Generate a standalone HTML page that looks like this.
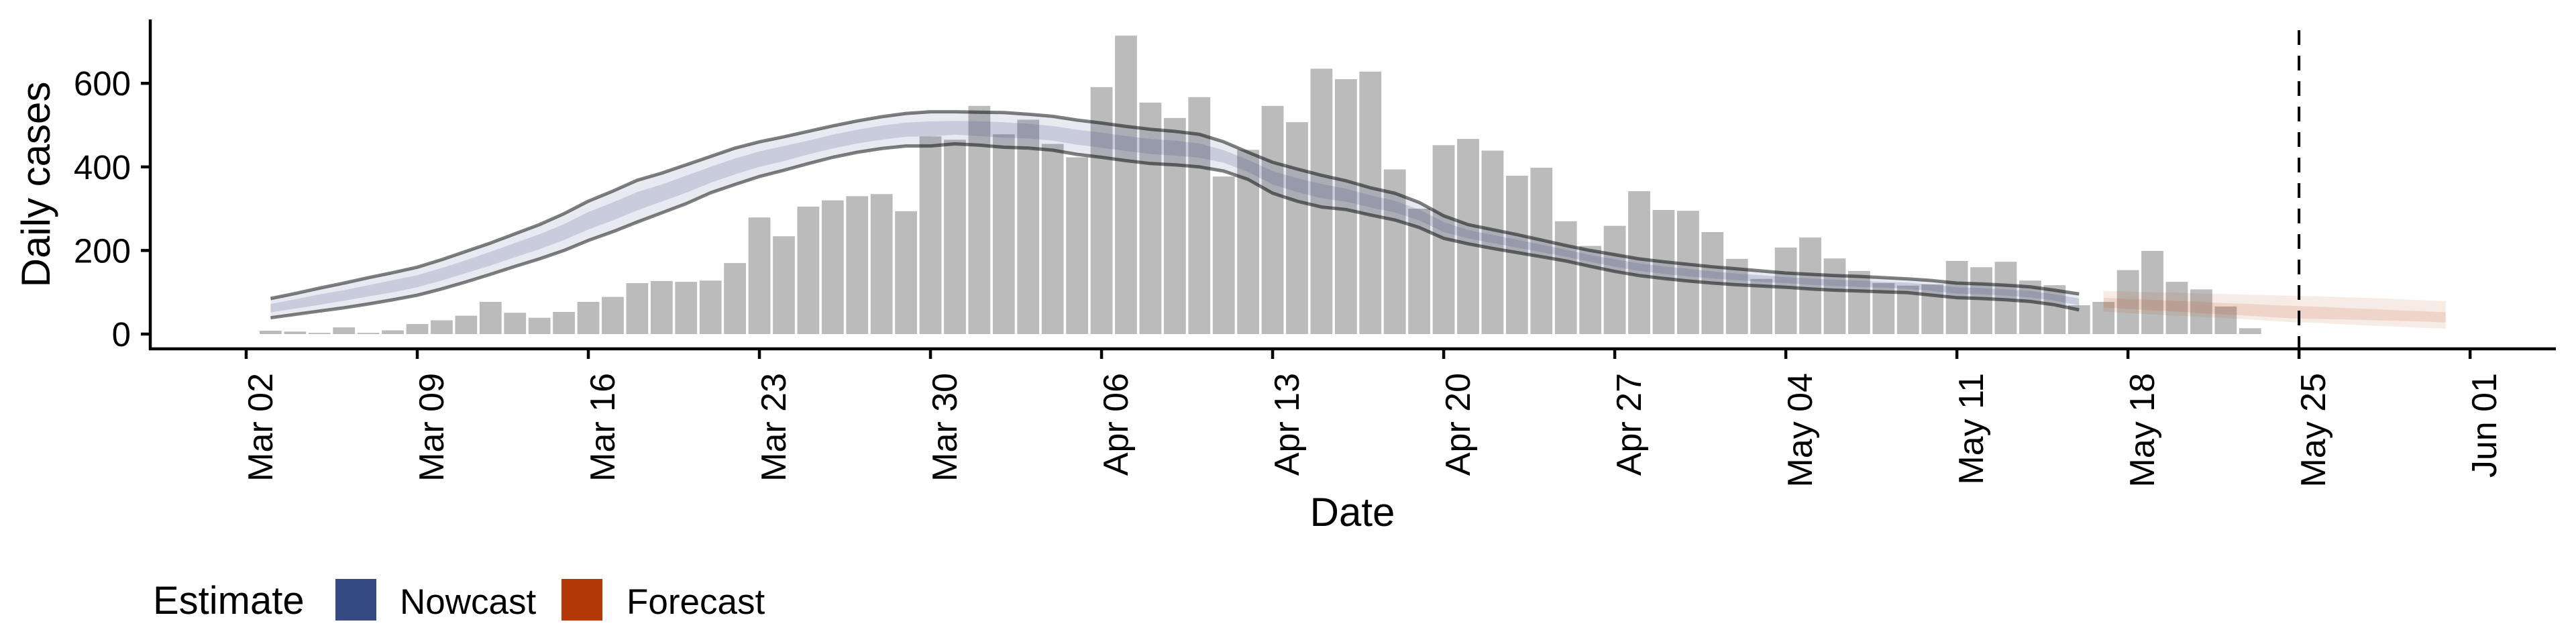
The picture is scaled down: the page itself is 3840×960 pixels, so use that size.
<!DOCTYPE html>
<html><head><meta charset="utf-8"><style>
html,body{margin:0;padding:0;background:#fff;}
svg{display:block;font-family:"Liberation Sans",sans-serif;}
</style></head><body>
<svg id="chart" width="3840" height="960" viewBox="0 0 3840 960" xmlns="http://www.w3.org/2000/svg">
<g id="bars"></g>
<g id="ribbons"></g>
<g id="lines"></g>
<g id="axes"></g>
<text x="2016" y="784" font-size="60" text-anchor="middle">Date</text>
<text transform="translate(74,275) rotate(-90)" font-size="60" text-anchor="middle">Daily cases</text>
<g>
<text x="228" y="915" font-size="58">Estimate</text>
<rect x="500" y="863" width="61" height="62" fill="#364a84"/>
<text x="596" y="915" font-size="53">Nowcast</text>
<rect x="837" y="863" width="61" height="62" fill="#b33a08"/>
<text x="934" y="915" font-size="53">Forecast</text>
</g>
</svg>
<script>
// Data (day offsets from Mar 02)
const barStartDay = 1; // Mar 03
const cases = [8,6,3,16,3,9,24, 33,44,77,51,39,53,77, 89,122,127,125,128,170,279, 234,305,320,330,335,294,473, 465,546,478,513,455,423,591, 714,554,517,567,377,441,546, 507,635,610,628,394,300,452, 467,439,379,398,270,211,259, 342,297,295,244,180,132,207, 231,181,151,122,116,119,175, 160,173,128,117,69,77,153, 199,125,107,66,14];
const nowStartDay = 1; // Mar 03
const nowUpper = [85,97,110,122,135,147,160, 178,198,218,240,262,288,318, 342,368,385,405,425,445,460, 472,485,498,510,520,528,532, 532,531,530,526,521,512,505, 497,490,485,478,460,435,411, 395,380,367,350,337,315,283, 262,250,238,225,212,200,190, 180,173,167,161,156,151,146, 143,140,138,135,132,128,122, 120,117,113,105,96];
const nowLower = [39,47,55,63,72,82,93, 108,125,143,162,180,200,224, 245,268,290,312,338,358,377, 392,408,423,435,444,450,450, 455,452,447,445,440,430,423, 415,408,405,400,390,370,337, 318,304,298,285,273,255,229, 216,205,195,185,175,162,150, 140,133,127,122,118,115,112, 108,105,103,101,99,93,87, 85,82,78,70,58];
const nowInnerLo = [52,61,70,80,90,100,112, 128,146,164,184,203,225,250, 272,296,317,338,362,382,400, 414,430,444,456,465,472,473, 477,474,470,468,463,453,446, 438,431,427,422,410,388,358, 340,325,317,303,291,272,244, 229,218,207,196,185,173,161, 151,144,138,133,129,125,122, 118,115,113,111,108,103,97, 95,92,88,80,69];
const nowInnerHi = [72,83,95,105,117,129,141, 158,177,197,218,239,263,292, 315,340,358,379,400,420,437, 450,463,477,489,499,506,509, 510,509,507,503,498,489,482, 474,467,463,456,440,417,390, 373,359,348,332,319,298,268, 249,237,226,214,202,189,179, 169,162,156,150,145,141,136, 133,130,128,125,123,118,112, 110,107,103,95,85];
const foreStartDay = 76; // May 17
const foreUpper = [103,102,100,99,97,96,94,93,91,90,88,86,84,81,79];
const foreLower = [54,50,47,44,41,38,35,31,28,26,23,20,18,15,13];
const foreInnerHi = [87,84,82,79,77,74,72,69,67,65,62,60,57,55,52];
const foreInnerLo = [64,60,57,54,50,47,44,40,37,36,35,33,32,30,28];
const yTicks = [0,200,400,600];
const xTickLabels = ["Mar 02","Mar 09","Mar 16","Mar 23","Mar 30","Apr 06","Apr 13","Apr 20","Apr 27","May 04","May 11","May 18","May 25","Jun 01"];
const xTickDays = [0,7,14,21,28,35,42,49,56,63,70,77,84,91];
const nowcastDateDay = 84; // May 25

const NS = "http://www.w3.org/2000/svg";
const X0 = 367, DAY = 36.43;
const Y0 = 498, PER = 124.6/200;
const xs = d => X0 + d*DAY;
const ys = v => Y0 - v*PER;
function mk(tag, attrs, parent){const e=document.createElementNS(NS,tag);for(const k in attrs)e.setAttribute(k,attrs[k]);parent.appendChild(e);return e;}

const gb = document.getElementById('bars');
cases.forEach((v,i)=>{
  const d = barStartDay+i, w = DAY*0.9;
  const r = mk('rect',{x:xs(d)-w/2,y:ys(v),width:w,height:Math.max(0,Y0-ys(v)),fill:'#bbbbbb'},gb);
  
  
});

function band(start, hi, lo, fill, op, name, parent){
  let p = '';
  hi.forEach((v,i)=>{p += (i?'L':'M')+xs(start+i).toFixed(1)+','+ys(v).toFixed(1);});
  for(let i=lo.length-1;i>=0;i--){p += 'L'+xs(start+i).toFixed(1)+','+ys(lo[i]).toFixed(1);}
  const e = mk('path',{d:p+'Z',fill:fill,'fill-opacity':op},parent);
  
  
}
const gr = document.getElementById('ribbons');
band(nowStartDay, nowUpper, nowLower, '#364a84', 0.115, 'nowcast-outer-ribbon', gr);
band(nowStartDay, nowInnerHi, nowInnerLo, '#364a84', 0.18, 'nowcast-inner-ribbon', gr);
band(foreStartDay, foreUpper, foreLower, '#b33a08', 0.1, 'forecast-outer-ribbon', gr);
band(foreStartDay, foreInnerHi, foreInnerLo, '#b33a08', 0.13, 'forecast-inner-ribbon', gr);

const gl = document.getElementById('lines');
function line(start, vals, name){
  const pts = vals.map((v,i)=>xs(start+i).toFixed(1)+','+ys(v).toFixed(1)).join(' ');
  const e = mk('polyline',{points:pts,fill:'none',stroke:'#000','stroke-opacity':0.5,'stroke-width':5,'stroke-linejoin':'round'},gl);
  
  
}
line(nowStartDay, nowUpper, 'nowcast-upper-line');
line(nowStartDay, nowLower, 'nowcast-lower-line');

const ga = document.getElementById('axes');
const dl = mk('line',{x1:xs(nowcastDateDay),x2:xs(nowcastDateDay),y1:45,y2:520,stroke:'#000','stroke-width':4,'stroke-dasharray':'22 16'},ga);


const ya = mk('line',{x1:224,x2:224,y1:29,y2:522,stroke:'#000','stroke-width':4.5},ga);


const xa = mk('line',{x1:222,x2:3810,y1:520,y2:520,stroke:'#000','stroke-width':4.5},ga);


yTicks.forEach(v=>{
  const t = mk('line',{x1:210,x2:224,y1:ys(v),y2:ys(v),stroke:'#000','stroke-width':4.5},ga);
  
  
  const l = mk('text',{x:195,y:ys(v)+18,'font-size':51,'text-anchor':'end'},ga);
  l.textContent = v;
  
  
});
xTickDays.forEach((d,i)=>{
  const t = mk('line',{x1:xs(d),x2:xs(d),y1:520,y2:535,stroke:'#000','stroke-width':4.5},ga);
  
  
  const l = mk('text',{transform:'translate('+(xs(d)+39)+',556) rotate(-90)','font-size':52,'text-anchor':'end'},ga);
  l.textContent = xTickLabels[i];
  
  
});
</script>
</body></html>
